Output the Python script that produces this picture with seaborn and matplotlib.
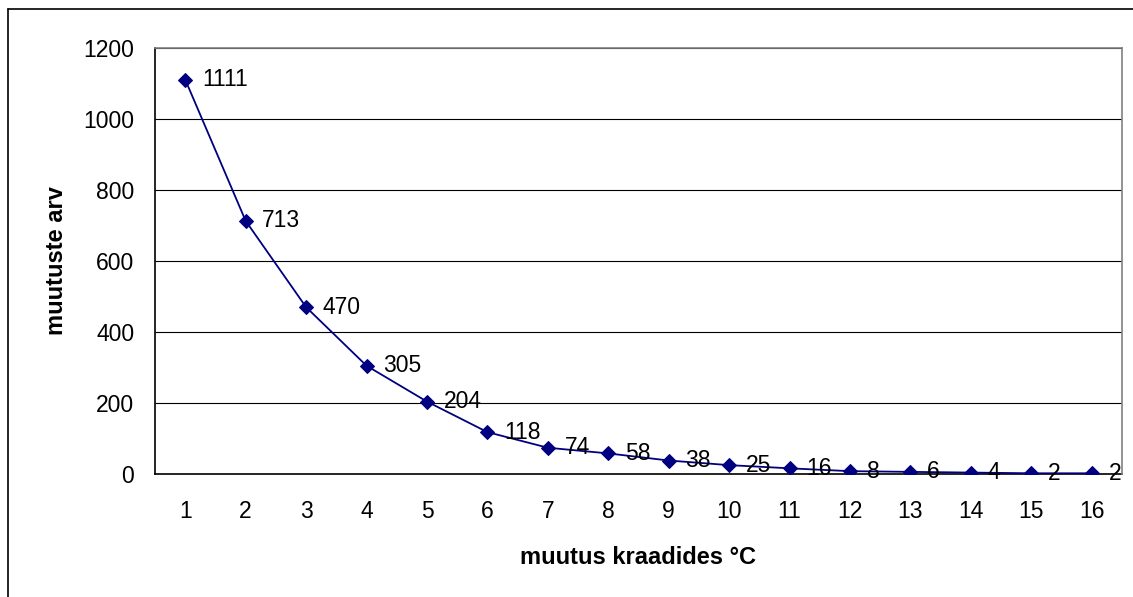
import matplotlib
matplotlib.use("Agg")
import matplotlib.pyplot as plt
import seaborn as sns
import pandas as pd
from matplotlib.lines import Line2D

categories = list(range(1, 17))
counts = [1111, 713, 470, 305, 204, 118, 74, 58, 38, 25, 16, 8, 6, 4, 2, 2]
yticks = [0, 200, 400, 600, 800, 1000, 1200]

sns.set_theme(style="white")
plt.rcParams['font.family'] = ['Liberation Sans', 'DejaVu Sans']
plt.rcParams['text.color'] = 'black'
plt.rcParams['axes.labelcolor'] = 'black'
plt.rcParams['xtick.color'] = 'black'
plt.rcParams['ytick.color'] = 'black'

FS = 16.5

df = pd.DataFrame({"x": categories, "y": counts})

fig = plt.figure(figsize=(11.33, 5.97), dpi=100)
ax = fig.add_axes([155/1133, 1 - 474/597, 967/1133, 426/597])

sns.lineplot(data=df, x="x", y="y", ax=ax, color="#000080", marker="D",
             markersize=7, markeredgecolor="#000080", linewidth=1.3, zorder=3)

for xv, yv in zip(categories, counts):
    ax.annotate(str(yv), (xv, yv), xytext=(12, 0), textcoords="offset points",
                va="center", ha="left", fontsize=FS, color="black", zorder=4)

ax.set_xlim(0.5, 16.5)
ax.set_ylim(0, 1200)
ax.set_yticks(yticks)
ax.set_yticklabels([str(t) for t in yticks], fontsize=FS)
ax.set_xticks(categories)
ax.set_xticklabels([str(c) for c in categories], fontsize=FS)
ax.set_xticks([c + 0.5 for c in categories[:-1]], minor=True)
ax.tick_params(axis="x", which="major", length=0, pad=19)
ax.tick_params(axis="x", which="minor", length=6, direction="in", width=1.2, color="black")
ax.tick_params(axis="y", which="major", length=6, direction="in", width=1.2, color="black", pad=15)

for t in yticks[1:]:
    ax.axhline(t, color="black", linewidth=0.8, zorder=1)

for s in ["left", "bottom"]:
    ax.spines[s].set_color("black")
    ax.spines[s].set_linewidth(1.2)
for s in ["top", "right"]:
    ax.spines[s].set_color("#808080")
    ax.spines[s].set_linewidth(1.2)
ax.spines["bottom"].set_zorder(2)

ax.set_xlabel("muutus kraadides °C", fontsize=17, fontweight="bold", labelpad=16, color="black")
ax.set_ylabel("muutuste arv", fontsize=17, fontweight="bold", labelpad=11, color="black")

# outer chart border (top and left visible)
fig.add_artist(Line2D([8/1133, 1.0], [1 - 9/597, 1 - 9/597], transform=fig.transFigure,
                      color="black", linewidth=1.2))
fig.add_artist(Line2D([8/1133, 8/1133], [0, 1 - 9/597], transform=fig.transFigure,
                      color="black", linewidth=1.2))

fig.savefig("out.png", dpi=100)
